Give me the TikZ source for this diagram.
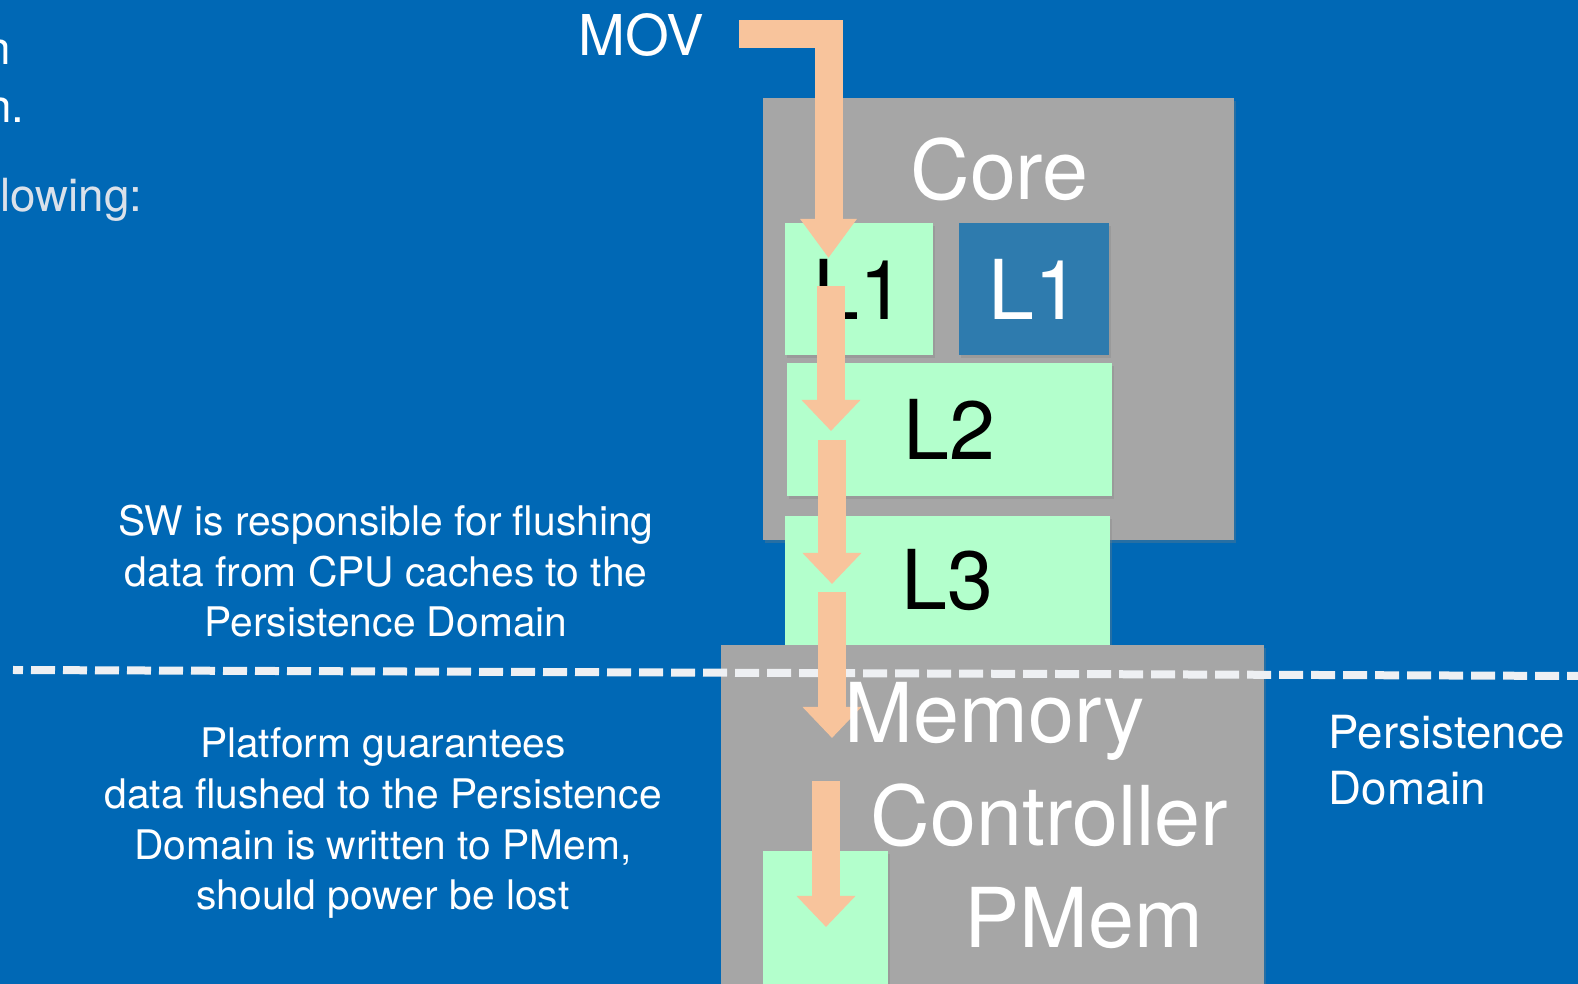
\documentclass[tikz,border=0pt]{standalone}
\usepackage{fontspec}
\setmainfont{TeX Gyre Heros}
\usetikzlibrary{arrows.meta,shadows}
\definecolor{slideblue}{RGB}{0,104,181}
\definecolor{boxgray}{RGB}{166,166,166}
\definecolor{cachegreen}{RGB}{179,255,204}
\definecolor{floworange}{RGB}{248,196,156}
\definecolor{otherblue}{RGB}{46,123,174}
\definecolor{dashgray}{RGB}{238,240,243}
\definecolor{bulletgray}{RGB}{218,225,234}

\begin{document}
\begin{tikzpicture}[
  box/.style={rectangle,inner sep=0pt,drop shadow={opacity=0.3,shadow xshift=0.02cm,shadow yshift=-0.03cm}},
  graybox/.style={box,fill=boxgray},
  greenbox/.style={box,fill=cachegreen,text=black,font=\fontsize{23.5}{28}\selectfont},
  bigtxt/.style={inner sep=0pt,text=white,font=\fontsize{23.5}{28}\selectfont},
  notetxt/.style={inner sep=0pt,text=white,align=center,font=\fontsize{11.6}{14.5}\selectfont},
  flowarrow/.style={line width=0.28cm,draw=floworange,line join=miter,
    -{Triangle[width=5.7mm,length=3.1mm]}}]
  \useasboundingbox (0,0) rectangle (15.78,9.84);
  \clip (0,0) rectangle (15.78,9.84);
  \fill[slideblue] (0,0) rectangle (15.78,9.84);

  % cut-off slide text at the left edge
  \node[notetxt,font=\fontsize{13}{16}\selectfont,anchor=base east] (frag1) at (0.12,9.19) {n};
  \node[notetxt,font=\fontsize{13}{16}\selectfont,anchor=base east] (frag2) at (0.25,8.61) {n.};
  \node[notetxt,text=bulletgray,font=\fontsize{13}{16}\selectfont,anchor=base east] (frag3) at (1.43,7.72) {lowing:};

  % core with its caches
  \node[graybox,minimum width=4.71cm,minimum height=4.42cm] (core) at (9.985,6.65) {};
  \node[bigtxt,anchor=base] (corelbl) at (9.995,7.84) {Core};
  \node[greenbox,minimum width=1.48cm,minimum height=1.32cm] (l1) at (8.59,6.95) {L1};
  \node[greenbox,fill=otherblue,text=white,minimum width=1.50cm,minimum height=1.32cm] (l1b) at (10.34,6.95) {L1};
  \node[greenbox,minimum width=3.25cm,minimum height=1.33cm] (l2) at (9.495,5.545) {L2};
  \node[greenbox,minimum width=3.25cm,minimum height=1.29cm] (l3) at (9.475,4.035) {L3};

  % memory controller and pmem
  \node[graybox,minimum width=5.43cm,minimum height=3.59cm] (mc) at (9.925,1.595) {};
  \node[box,fill=cachegreen,minimum width=1.25cm,minimum height=1.53cm] (pmem) at (8.255,0.565) {};
  \node[bigtxt,anchor=base] (ctrllbl) at (10.495,1.38) {Controller};
  \node[bigtxt,anchor=base] (pmemlbl) at (10.84,0.36) {PMem};

  % persistence domain border
  \coordinate (dl) at (0.13,3.14);
  \coordinate (dr) at (15.78,3.08);
  \draw[dashgray,line width=0.08cm,dash pattern=on 0.24cm off 0.08cm,dash phase=0.14cm] (dl) -- (dr);

  % data flow
  \node[bigtxt,font=\fontsize{16}{19}\selectfont,anchor=base east] (mov) at (7.05,9.28) {MOV};
  \coordinate (t1) at (7.39,9.50);
  \coordinate (h1) at (8.285,7.26);
  \coordinate (t2) at (8.31,6.98);
  \coordinate (h2) at (8.31,5.53);
  \coordinate (t3) at (8.32,5.44);
  \coordinate (h3) at (8.32,4.00);
  \coordinate (t4) at (8.32,3.92);
  \coordinate (h4) at (8.32,2.46);
  \coordinate (t5) at (8.26,2.03);
  \coordinate (h5) at (8.26,0.57);
  \draw[flowarrow,-{Triangle[width=5.4mm,length=3.9mm]}] (t1) -| (h1);
  \foreach \i in {2,...,5}
    \draw[flowarrow] (t\i) -- (h\i);
  \node[bigtxt,anchor=base] (memlbl) at (9.95,2.41) {Memory};

  % notes (base = last line)
  \node[notetxt,anchor=base] (swnote) at (3.86,3.47)
    {SW is responsible for flushing\\data from CPU caches to the\\Persistence Domain};
  \node[notetxt,anchor=base] (pfnote) at (3.83,0.74)
    {Platform guarantees\\data flushed to the Persistence\\Domain is written to PMem,\\should power be lost};
  \node[notetxt,align=left,font=\fontsize{13}{16.2}\selectfont,anchor=base west] (pdlbl) at (13.28,1.79)
    {Persistence\\Domain};
\end{tikzpicture}
\end{document}
